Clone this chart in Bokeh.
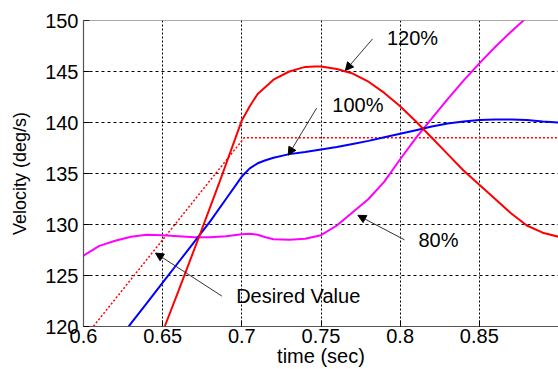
from bokeh.plotting import figure
from bokeh.models import Range1d, FixedTicker, Arrow, NormalHead, Label, Span
from bokeh.embed import file_html
from bokeh.resources import INLINE

# ---- data ----
x_ticks = [0.6, 0.65, 0.7, 0.75, 0.8, 0.85]
y_ticks = [120, 125, 130, 135, 140, 145, 150]

t80 = [0.600, 0.610, 0.620, 0.630, 0.640, 0.650, 0.660, 0.670, 0.680, 0.690, 0.700, 0.705,
       0.710, 0.715, 0.720, 0.730, 0.740, 0.750, 0.760, 0.770, 0.780, 0.790, 0.800, 0.810,
       0.820, 0.830, 0.840, 0.850, 0.860, 0.870, 0.880, 0.890, 0.900]
v80 = [126.95, 127.9, 128.4, 128.8, 129.0, 128.95, 128.85, 128.75, 128.75, 128.85, 129.05, 129.1,
       129.0, 128.75, 128.55, 128.5, 128.6, 128.95, 129.9, 131.2, 132.5, 134.2, 136.4, 138.5,
       140.4, 142.3, 144.1, 145.8, 147.4, 148.9, 150.3, 151.6, 152.8]

t100 = [0.620, 0.630, 0.640, 0.650, 0.660, 0.670, 0.680, 0.690, 0.700, 0.705, 0.710, 0.715,
        0.720, 0.730, 0.740, 0.750, 0.760, 0.770, 0.780, 0.790, 0.800, 0.810, 0.820, 0.830,
        0.840, 0.850, 0.860, 0.870, 0.880, 0.890, 0.900]
v100 = [118.3, 120.3, 122.3, 124.3, 126.3, 128.3, 130.3, 132.5, 134.7, 135.5, 136.0, 136.3,
        136.55, 136.9, 137.1, 137.35, 137.6, 137.9, 138.2, 138.55, 138.9, 139.25, 139.6, 139.9,
        140.1, 140.25, 140.3, 140.3, 140.25, 140.1, 140.0]

t120 = [0.645, 0.6513, 0.660, 0.673, 0.6853, 0.700, 0.705, 0.710, 0.720, 0.730, 0.740, 0.746,
        0.750, 0.760, 0.770, 0.780, 0.790, 0.800, 0.810, 0.820, 0.830, 0.840, 0.850, 0.860,
        0.870, 0.880, 0.890, 0.900]
v120 = [117.5, 120.0, 123.5, 128.8, 133.9, 140.2, 141.6, 142.8, 144.2, 145.0, 145.45, 145.5,
        145.5, 145.25, 144.8, 144.0, 142.9, 141.6, 140.1, 138.5, 136.9, 135.3, 133.9, 132.5,
        131.1, 129.9, 129.2, 128.8]

t_des = [0.600, 0.7015, 0.900]
v_des = [118.8, 138.5, 138.5]

# annotations: text, text position, arrow tail, arrow tip
ann_text = ["120%", "100%", "80%", "Desired Value"]
ann_x = [0.8078, 0.7733, 0.8242, 0.7356]
ann_y = [148.24, 141.7, 128.44, 122.98]
arr_x0 = [0.7826, 0.7472, 0.8027, 0.6874]
arr_y0 = [148.2, 141.4, 128.5, 122.98]
arr_x1 = [0.7654, 0.7293, 0.7733, 0.6455]
arr_y1 = [145.1, 136.8, 130.9, 127.2]

xlabel = "time (sec)"
ylabel = "Velocity (deg/s)"

FONT = "Liberation Sans"
AXIS_COLOR = "#555555"

p = figure(width=558, height=369, output_backend="svg", toolbar_location=None,
           x_range=Range1d(0.6, 0.9), y_range=Range1d(120, 150),
           min_border_left=83, min_border_right=0, min_border_top=20, min_border_bottom=42)
p.outline_line_color = None
p.background_fill_color = "white"
p.border_fill_color = "white"

for ax in (p.xaxis[0], p.yaxis[0]):
    ax.axis_line_color = AXIS_COLOR
    ax.axis_line_width = 1.2
    ax.major_tick_in = 6
    ax.major_tick_out = 0
    ax.major_tick_line_color = "black"
    ax.minor_tick_line_color = None
    ax.major_label_text_font = FONT
    ax.major_label_text_font_size = "20px"
    ax.major_label_text_color = "black"
    ax.axis_label_text_font = FONT
    ax.axis_label_text_font_style = "normal"
    ax.axis_label_text_color = "black"

p.xaxis[0].ticker = FixedTicker(ticks=x_ticks)
p.yaxis[0].ticker = FixedTicker(ticks=y_ticks)
p.xaxis[0].major_label_standoff = 2
p.yaxis[0].major_label_standoff = 5

p.xaxis[0].axis_label = xlabel
p.xaxis[0].axis_label_text_font_size = "20px"
p.xaxis[0].axis_label_standoff = -1

p.yaxis[0].axis_label = ylabel
p.yaxis[0].axis_label_text_font_size = "18px"
p.yaxis[0].axis_label_standoff = 12

p.add_layout(Span(location=150, dimension="width", line_color=AXIS_COLOR, line_width=1.2))

p.xgrid.grid_line_color = "black"
p.xgrid.grid_line_dash = "2 2"
p.xgrid.grid_line_width = 1
p.xgrid.ticker = FixedTicker(ticks=x_ticks)
p.ygrid.grid_line_color = "black"
p.ygrid.grid_line_dash = "3 3"
p.ygrid.grid_line_width = 1
p.ygrid.ticker = FixedTicker(ticks=y_ticks)

p.line(t_des, v_des, line_color="#ff0000", line_width=1.5, line_dash="2 2")
p.line(t80, v80, line_color="#ff00ff", line_width=2)
p.line(t100, v100, line_color="#0000ff", line_width=2)
p.line(t120, v120, line_color="#ff0000", line_width=2)

for i in range(len(ann_text)):
    p.add_layout(Arrow(end=NormalHead(size=8, fill_color="black", line_color="black", line_width=1),
                       x_start=arr_x0[i], y_start=arr_y0[i], x_end=arr_x1[i], y_end=arr_y1[i],
                       line_color="#333333", line_width=1))
    p.add_layout(Label(x=ann_x[i], y=ann_y[i], text=ann_text[i], text_align="center",
                       text_baseline="middle", text_font=FONT, text_font_size="20px",
                       text_color="black"))

open("out.html", "w").write(file_html(p, INLINE))
